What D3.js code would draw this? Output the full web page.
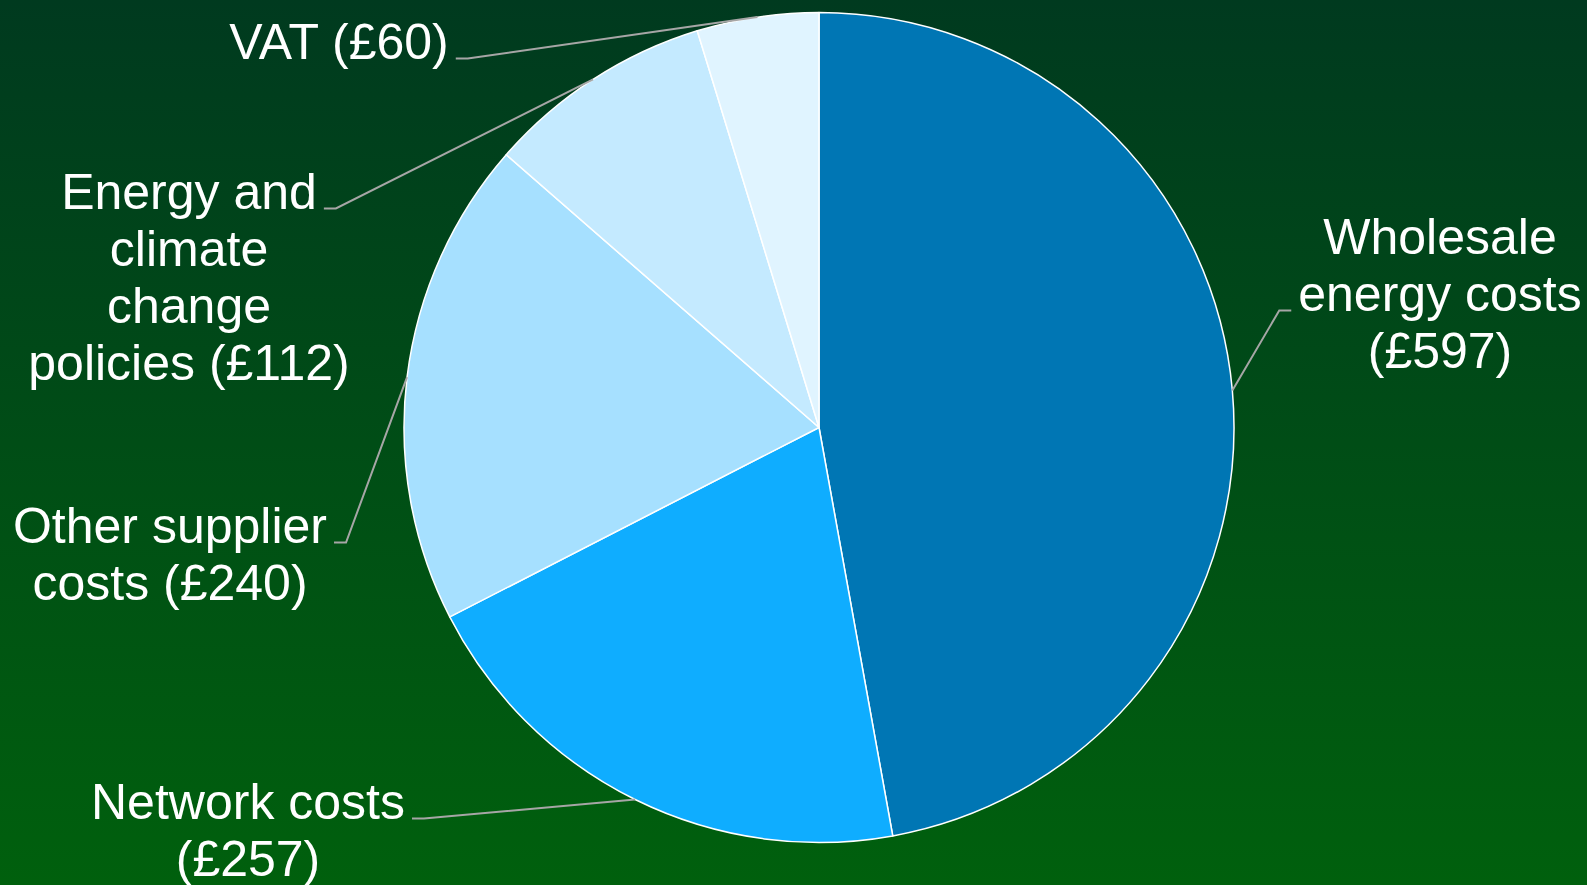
<!DOCTYPE html>
<html>
<head>
<meta charset="utf-8">
<script src="https://cdn.jsdelivr.net/npm/d3@7"></script>
<style>
  html, body { margin: 0; padding: 0; background: #003a1f; }
  svg { display: block; }
  text { font-family: "Liberation Sans", Arial, sans-serif; }
</style>
</head>
<body>
<script>
// Annual dual-fuel bill breakdown
const categories = [
  ["Wholesale", "energy costs", "({v})"],
  ["Network costs", "({v})"],
  ["Other supplier", "costs ({v})"],
  ["Energy and", "climate", "change", "policies ({v})"],
  ["VAT ({v})"]
];
const values = [597, 257, 240, 112, 60];
const sliceColors = ["#0076b4", "#0fadff", "#a6e0ff", "#c4eaff", "#e0f4ff"];

// label placement: centre x, first baseline, side of the pie, line the leader joins
const labelLayout = [
  { x: 1440, y: 254, side: "right", attach: 1 },
  { x: 248, y: 819, side: "left", attach: 0 },
  { x: 170, y: 543, side: "left", attach: 0 },
  { x: 189, y: 209, side: "left", attach: 0 },
  { x: 339, y: 59, side: "left", attach: 0 }
];

const W = 1587, H = 885;
const cx = 819, cy = 427.5, R = 415;
const fontSize = 50, lineH = 57;

const svg = d3.select("body").append("svg")
  .attr("width", W).attr("height", H);

const defs = svg.append("defs");
const grad = defs.append("linearGradient")
  .attr("id", "bg").attr("x1", 0).attr("y1", 0).attr("x2", 0).attr("y2", 1);
grad.append("stop").attr("offset", "0%").attr("stop-color", "#003a1f");
grad.append("stop").attr("offset", "100%").attr("stop-color", "#00600d");
svg.append("rect").attr("width", W).attr("height", H).attr("fill", "url(#bg)");

const pie = d3.pie().sort(null).value(d => d);
const arcs = pie(values);
const arc = d3.arc().innerRadius(0).outerRadius(R);

const g = svg.append("g").attr("transform", `translate(${cx},${cy})`);
g.selectAll("path.slice").data(arcs).join("path")
  .attr("class", "slice")
  .attr("d", arc)
  .attr("fill", (d, i) => sliceColors[i])
  .attr("stroke", "#ffffff")
  .attr("stroke-width", 1.5)
  .attr("stroke-linejoin", "round");

const fmt = v => "£" + d3.format(",")(v);

const labels = svg.append("g").attr("fill", "#ffffff")
  .attr("font-size", fontSize);

const leaders = svg.append("g")
  .attr("fill", "none")
  .attr("stroke", "#a6a6a6")
  .attr("stroke-width", 2);

arcs.forEach((a, i) => {
  const lay = labelLayout[i];
  const lines = categories[i].map(s => s.replace("{v}", fmt(values[i])));
  const t = labels.append("text").attr("text-anchor", "middle");
  const spans = lines.map((s, k) => t.append("tspan")
    .attr("x", lay.x).attr("y", lay.y + k * lineH).text(s));

  // leader from the middle of the slice's outer arc to the label
  const mid = (a.startAngle + a.endAngle) / 2;
  const px = cx + R * Math.sin(mid), py = cy - R * Math.cos(mid);
  const w = spans[lay.attach].node().getComputedTextLength();
  const ly = lay.y + lay.attach * lineH - 0.5;
  const dir = lay.side === "left" ? 1 : -1;
  const edge = lay.x + dir * w / 2;
  const endX = edge + dir * 7, elbowX = edge + dir * 19;
  leaders.append("polyline")
    .attr("points", [[px, py], [elbowX, ly], [endX, ly]].map(p => p.join(",")).join(" "));
});
</script>
</body>
</html>
